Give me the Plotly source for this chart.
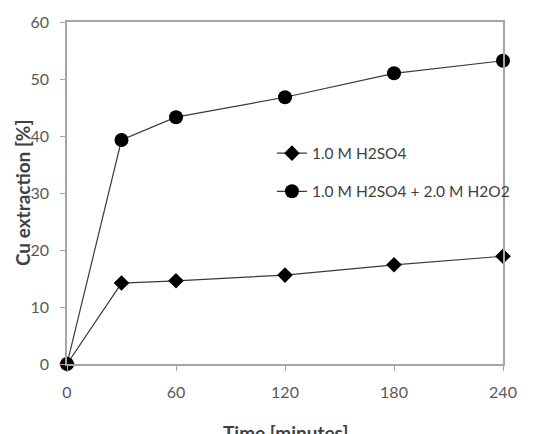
import plotly.graph_objects as go

time_min = [0, 30, 60, 120, 180, 240]
h2so4 = [0, 14.2, 14.6, 15.6, 17.4, 18.9]
h2so4_h2o2 = [0, 39.3, 43.3, 46.8, 51.0, 53.2]
x_ticks = [0, 60, 120, 180, 240]
y_ticks = [0, 10, 20, 30, 40, 50, 60]

FONT = "Lato, Carlito, Open Sans, sans-serif"
line_col = "#3a3a3a"

fig = go.Figure()
fig.add_trace(go.Scatter(
    x=time_min, y=h2so4, mode="lines+markers", name="1.0 M H2SO4",
    legendgroup="a",
    line=dict(color=line_col, width=1.2),
    marker=dict(symbol="diamond", size=12, color="black"),
))
fig.add_trace(go.Scatter(
    x=time_min, y=h2so4_h2o2, mode="lines+markers", name="1.0 M H2SO4 + 2.0 M H2O2",
    legendgroup="b",
    line=dict(color=line_col, width=1.2),
    marker=dict(symbol="circle", size=14, color="black"),
))

axis_common = dict(
    showline=True, linecolor="#a6a6a6", linewidth=1.5, mirror=True,
    showgrid=False, zeroline=False,
    ticks="outside", ticklen=5, tickcolor="#a6a6a6", tickwidth=1,
    tickfont=dict(family=FONT, size=16, color="#595959"),
)

fig.update_layout(
    width=553, height=434,
    margin=dict(l=67, r=50, t=16, b=70),
    paper_bgcolor="white", plot_bgcolor="white",
    showlegend=True,
    legend=dict(
        x=0.47, y=0.665, xanchor="left", yanchor="top",
        bgcolor="rgba(0,0,0,0)",
        font=dict(family=FONT, size=15.5, color="#404040"),
        traceorder="grouped", tracegroupgap=15,
        itemwidth=30,
    ),
    xaxis=dict(range=[0, 240], tickvals=x_ticks, ticklabelstandoff=8, **axis_common),
    yaxis=dict(range=[0, 60], tickvals=y_ticks, ticklabelstandoff=8, **axis_common),
    annotations=[
        dict(text="<b>Time [minutes]</b>", xref="paper", yref="paper",
             x=0.5, y=-0.2, xanchor="center", yanchor="middle",
             showarrow=False, font=dict(family=FONT, size=19, color="#404040")),
        dict(text="<b>Cu extraction [%]</b>", xref="paper", yref="paper",
             x=-0.103, y=0.5, xanchor="center", yanchor="middle", textangle=-90,
             showarrow=False, font=dict(family=FONT, size=19, color="#404040")),
    ],
)
fig.update_traces(cliponaxis=False)

fig.write_html("out.html")
